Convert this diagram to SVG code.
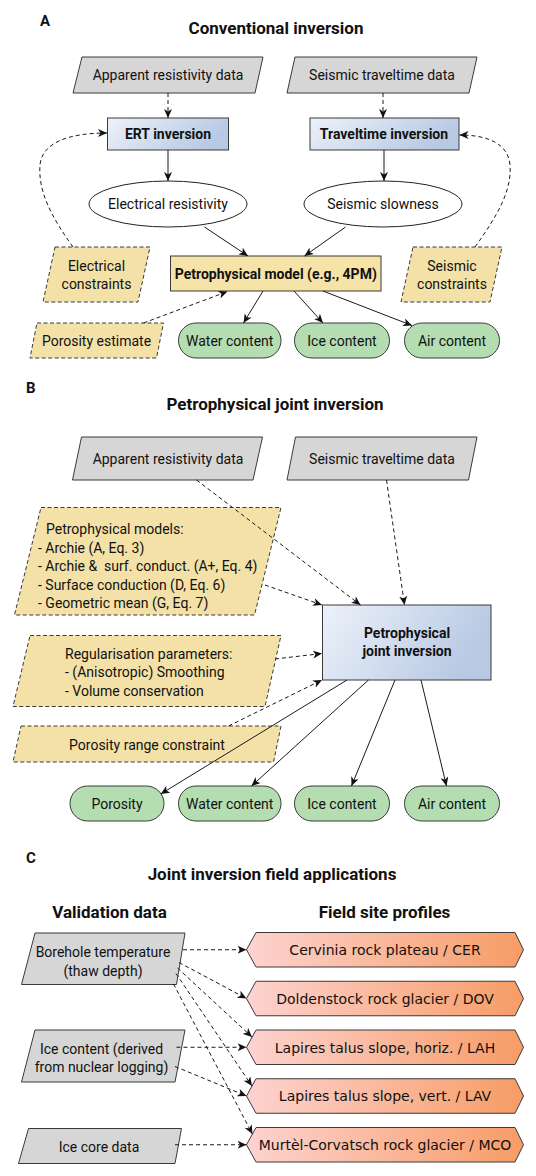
<svg xmlns="http://www.w3.org/2000/svg" width="536" height="1176" viewBox="0 0 536 1176">
<style>
text{font-family:Roboto,"Liberation Sans",sans-serif;font-size:14px;fill:#111}
.m{text-anchor:middle}
.b{font-weight:bold}
.h{font-size:17px;font-weight:bold}
.lbl{font-size:15px;font-weight:bold}
.dv{font-family:"DejaVu Sans",sans-serif;font-size:14px}
.gray{fill:#d6d6d6;stroke:#3a3a3a;stroke-width:1}
.yel{fill:#f3e1a7;stroke:#3a3a3a;stroke-width:1;stroke-dasharray:4 2.5}
.blue{fill:url(#gb);stroke:#3a3a3a;stroke-width:1}
.green{fill:#b5ddb2;stroke:#3a3a3a;stroke-width:1}
.hex{fill:url(#go);stroke:#3a3a3a;stroke-width:1}
.ell{fill:#fff;stroke:#222;stroke-width:1}
.c{stroke:#1a1a1a;fill:none;stroke-width:1;marker-end:url(#arr)}
.dash{stroke-dasharray:4 3}
</style>
<defs>
<linearGradient id="gb" x1="0" y1="0" x2="1" y2="0.3">
<stop offset="0" stop-color="#edf2fa"/><stop offset="1" stop-color="#b8c9e3"/>
</linearGradient>
<linearGradient id="go" x1="0" y1="0" x2="1" y2="0">
<stop offset="0" stop-color="#fdd3d0"/><stop offset="1" stop-color="#f79c66"/>
</linearGradient>
<marker id="arr" markerUnits="userSpaceOnUse" markerWidth="10" markerHeight="8" refX="9" refY="4" orient="auto">
<path d="M0,0 L9,4 L0,8 L2.5,4 Z" fill="#111"/>
</marker>
</defs>

<!-- Section A -->
<text class="lbl" x="40" y="26">A</text>
<text class="h m" x="276" y="33.5">Conventional inversion</text>

<g id="a-app-res"><polygon class="gray" points="82,57 263,57 255,93 73,93"/><text class="m" x="168" y="80">Apparent resistivity data</text></g>
<g id="a-seis-tt"><polygon class="gray" points="295,57 477,57 469,93 287,93"/><text class="m" x="382" y="80">Seismic traveltime data</text></g>
<g id="a-ert"><rect class="blue" x="107.5" y="118" width="121" height="32"/><text class="m b" x="168" y="139">ERT inversion</text></g>
<g id="a-tt"><rect class="blue" x="310" y="118" width="149" height="32"/><text class="m b" x="384" y="139">Traveltime inversion</text></g>
<g id="a-elres"><ellipse class="ell" cx="168" cy="204" rx="79" ry="23"/><text class="m" x="168" y="209">Electrical resistivity</text></g>
<g id="a-slow"><ellipse class="ell" cx="383" cy="204" rx="79" ry="23"/><text class="m" x="383" y="209">Seismic slowness</text></g>
<g id="a-elcon"><polygon class="yel" points="55,247 150,247 138,302 43,302"/><text class="m" x="96.5" y="270.5">Electrical</text><text class="m" x="96.5" y="288.5">constraints</text></g>
<g id="a-secon"><polygon class="yel" points="413,247 502,247 490,302 401,302"/><text class="m" x="452" y="270.5">Seismic</text><text class="m" x="452" y="288.5">constraints</text></g>
<g id="a-petro"><rect x="170.5" y="256" width="210.5" height="35" fill="#f5e3a8" stroke="#3a3a3a"/><text class="m b" x="275.8" y="278.5">Petrophysical model (e.g., 4PM)</text></g>
<g id="a-poro"><polygon class="yel" points="37,323 163.5,323 156.5,358 30,358"/><text class="m" x="96.5" y="345.5">Porosity estimate</text></g>
<g id="a-water"><rect class="green" x="178.5" y="323" width="102.5" height="35" rx="17.5"/><text class="m" x="229.7" y="345.5">Water content</text></g>
<g id="a-ice"><rect class="green" x="294.5" y="323" width="95" height="35" rx="17.5"/><text class="m" x="342" y="345.5">Ice content</text></g>
<g id="a-air"><rect class="green" x="404.5" y="323" width="95" height="35" rx="17.5"/><text class="m" x="452" y="345.5">Air content</text></g>

<!-- Section B -->
<text class="lbl" x="26" y="393">B</text>
<text class="h m" x="275" y="410">Petrophysical joint inversion</text>

<g id="b-app-res"><polygon class="gray" points="81.5,437 262.5,437 253,480 72.5,480"/><text class="m" x="168" y="464">Apparent resistivity data</text></g>
<g id="b-seis-tt"><polygon class="gray" points="295.5,437 477,437 468.5,480 287,480"/><text class="m" x="382" y="464">Seismic traveltime data</text></g>
<g id="b-models"><polygon class="yel" points="41,507.5 281,507.5 254.5,615 14.5,615"/>
<text x="46" y="534">Petrophysical models:</text>
<text x="38" y="552.5">- Archie (A, Eq. 3)</text>
<text x="38" y="571" xml:space="preserve">- Archie &amp;  surf. conduct. (A+, Eq. 4)</text>
<text x="38" y="589.5">- Surface conduction (D, Eq. 6)</text>
<text x="38" y="608">- Geometric mean (G, Eq. 7)</text></g>
<g id="b-joint"><rect class="blue" x="322.5" y="605" width="168.5" height="75"/><text class="m b" x="407" y="637.5">Petrophysical</text><text class="m b" x="407" y="655.5">joint inversion</text></g>
<g id="b-reg"><polygon class="yel" points="30,635.5 281,635.5 265,706.5 13,706.5"/>
<text x="65" y="658.5">Regularisation parameters:</text>
<text x="65" y="677">- (Anisotropic) Smoothing</text>
<text x="65" y="696">- Volume conservation</text></g>
<g id="b-porrange"><polygon class="yel" points="21,726 281,726 273.5,762 13,762"/><text class="m" x="147" y="750">Porosity range constraint</text></g>
<g id="b-poro"><rect class="green" x="70" y="786" width="94" height="35" rx="17.5"/><text class="m" x="117" y="808.5">Porosity</text></g>
<g id="b-water"><rect class="green" x="178.5" y="786" width="102.5" height="35" rx="17.5"/><text class="m" x="229.7" y="808.5">Water content</text></g>
<g id="b-ice"><rect class="green" x="294.5" y="786" width="95" height="35" rx="17.5"/><text class="m" x="342" y="808.5">Ice content</text></g>
<g id="b-air"><rect class="green" x="404.5" y="786" width="95" height="35" rx="17.5"/><text class="m" x="452" y="808.5">Air content</text></g>

<!-- Section C -->
<text class="lbl" x="26" y="863">C</text>
<text class="h m" x="272" y="880">Joint inversion field applications</text>
<text class="h m" x="109.5" y="918">Validation data</text>
<text class="h m" x="384.5" y="918">Field site profiles</text>

<g id="c-bore"><polygon class="gray" points="35,933 185,933 176.5,984.5 21.5,984.5"/><text class="m" x="103" y="957">Borehole temperature</text><text class="m" x="103" y="975.5">(thaw depth)</text></g>
<g id="c-icec"><polygon class="gray" points="35,1030 185,1030 175,1082 21.5,1082"/><text class="m" x="101.5" y="1053.5">Ice content (derived</text><text class="m" x="101.5" y="1072">from nuclear logging)</text></g>
<g id="c-core"><polygon class="gray" points="28.5,1128.5 181.5,1128.5 175,1163.5 18.5,1163.5"/><text class="m" x="99" y="1152">Ice core data</text></g>

<g id="c-cer"><polygon class="hex" points="246.5,949.75 256,932.5 515,932.5 523.5,949.75 515,967 256,967"/><text class="m dv" x="385" y="955">Cervinia rock plateau / CER</text></g>
<g id="c-dov"><polygon class="hex" points="246.5,998.5 256,981.25 515,981.25 523.5,998.5 515,1015.75 256,1015.75"/><text class="m dv" x="385" y="1003.75">Doldenstock rock glacier / DOV</text></g>
<g id="c-lah"><polygon class="hex" points="246.5,1047.25 256,1030 515,1030 523.5,1047.25 515,1064.5 256,1064.5"/><text class="m dv" x="385" y="1052.5">Lapires talus slope, horiz. / LAH</text></g>
<g id="c-lav"><polygon class="hex" points="246.5,1096 256,1078.75 515,1078.75 523.5,1096 515,1113.25 256,1113.25"/><text class="m dv" x="385" y="1101.25">Lapires talus slope, vert. / LAV</text></g>
<g id="c-mco"><polygon class="hex" points="246.5,1144.75 256,1127.5 515,1127.5 523.5,1144.75 515,1162 256,1162"/><text class="m dv" x="385" y="1150">Murtèl-Corvatsch rock glacier / MCO</text></g>

<g id="connectors">
<line class="c dash" x1="168" y1="93" x2="168" y2="118"/>
<line class="c dash" x1="383" y1="93" x2="383" y2="118"/>
<line class="c" x1="168" y1="150" x2="168" y2="181"/>
<line class="c" x1="384" y1="150" x2="384" y2="181"/>
<line class="c" x1="204.5" y1="227" x2="248" y2="256"/>
<line class="c" x1="345.5" y1="227" x2="304.5" y2="256"/>
<path class="c dash" d="M73,247 C50,215 38,190 40,165 C42,142 70,133 107,133"/>
<path class="c dash" d="M475,247 C498,215 512,190 510,165 C508,142 485,135 459.5,135"/>
<line class="c" x1="263" y1="291" x2="243.5" y2="323"/>
<line class="c" x1="294" y1="291" x2="323" y2="323"/>
<line class="c" x1="323" y1="291" x2="412" y2="325.5"/>
<line class="c dash" x1="143.5" y1="323" x2="227.5" y2="291.5"/>

<line class="c dash" x1="196.5" y1="480" x2="360.5" y2="605"/>
<line class="c dash" x1="386.5" y1="480" x2="404.5" y2="605"/>
<line class="c dash" x1="265" y1="585" x2="322" y2="605"/>
<line class="c dash" x1="275" y1="659" x2="322" y2="653.5"/>
<line class="c dash" x1="228.5" y1="726" x2="322" y2="680"/>
<line class="c" x1="347" y1="680" x2="160.7" y2="794"/>
<line class="c" x1="368.5" y1="680" x2="251.5" y2="786"/>
<line class="c" x1="395" y1="680" x2="351.5" y2="786"/>
<line class="c" x1="421" y1="680" x2="446.5" y2="786"/>

<line class="c dash" x1="183" y1="949.75" x2="246.5" y2="949.75"/>
<line class="c dash" x1="179" y1="962.5" x2="246.5" y2="998.5"/>
<line class="c dash" x1="177.5" y1="968" x2="252" y2="1037"/>
<line class="c dash" x1="176" y1="973.5" x2="252" y2="1086"/>
<line class="c dash" x1="173.5" y1="984" x2="252.4" y2="1134"/>
<line class="c dash" x1="176.5" y1="1047.25" x2="246.5" y2="1047.25"/>
<line class="c dash" x1="175" y1="1066.5" x2="246.5" y2="1096"/>
<line class="c dash" x1="175" y1="1144.75" x2="246.5" y2="1144.75"/>
</g>
</svg>
